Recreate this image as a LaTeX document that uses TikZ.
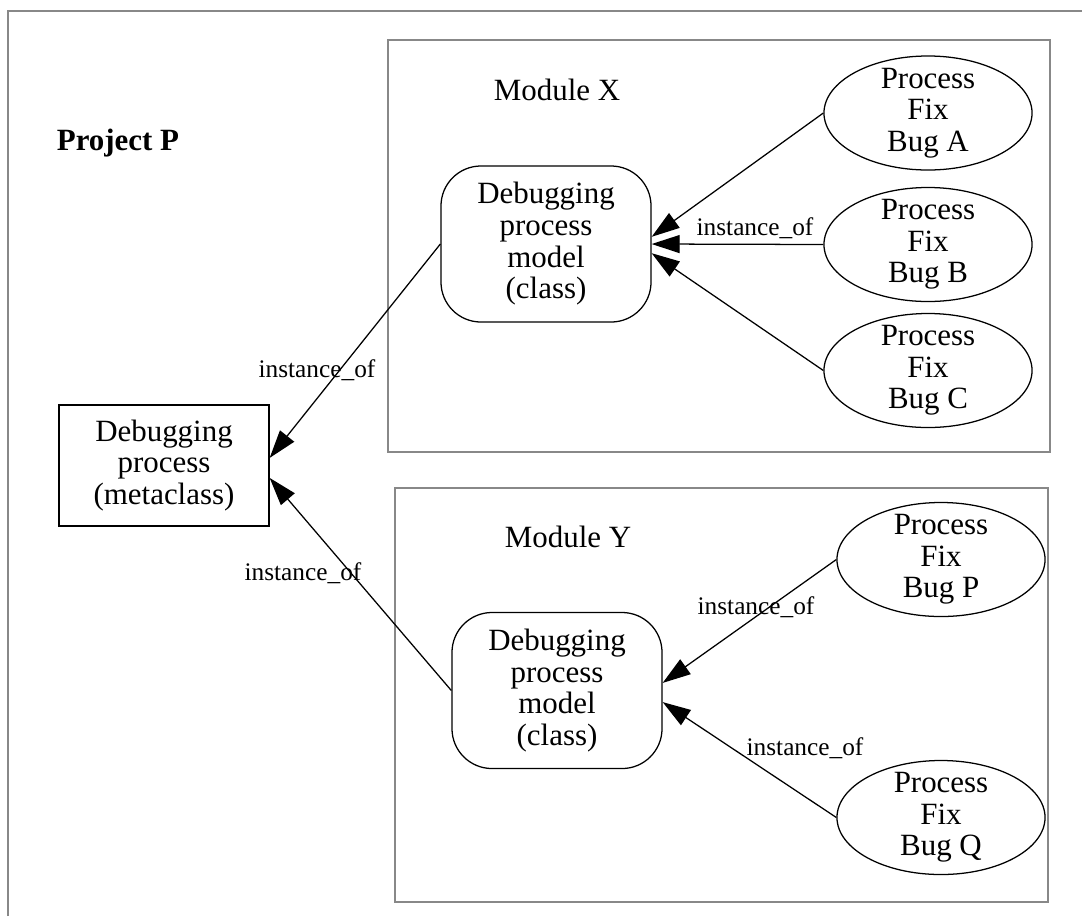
\documentclass[tikz,border=0pt]{standalone}
\usepackage{fontspec}
\setmainfont{Liberation Serif}
\usetikzlibrary{arrows.meta, shapes.geometric}
\definecolor{framegray}{HTML}{888888}

\begin{document}
\begin{tikzpicture}[x=0.025cm, y=-0.025cm,
    nodetext/.style={align=center, font=\fontsize{22}{22.5}\selectfont, inner sep=0pt},
    metabox/.style={nodetext, draw, line width=0.9pt, minimum width=5.25cm, minimum height=3.025cm},
    classbox/.style={nodetext, draw, line width=0.9pt, rounded corners=1cm, minimum width=5.25cm, minimum height=3.9cm},
    bugnode/.style={nodetext, draw, ellipse, line width=0.9pt, inner ysep=-6pt, minimum width=5.2cm, minimum height=2.85cm},
    edgelabel/.style={font=\fontsize{18}{20}\selectfont, inner sep=0pt},
    inst/.style={-{Triangle[length=0.7cm, width=0.45cm]}, line width=0.9pt},
    cluster/.style={draw=framegray, line width=1.6pt}]
    \useasboundingbox (0,0) rectangle (1082,916);

    % Project frame
    \draw[cluster] (8,916) -- (8,11) -- (1082,11);
    \node[font=\fontsize{22}{26}\selectfont\bfseries] (project) at (118,143) {Project P};

    % Module clusters
    \draw[cluster] (388,40) rectangle (1050,452);
    \node[nodetext] (modX) at (557,90) {Module X};
    \draw[cluster] (395,488) rectangle (1048,902);
    \node[nodetext] (modY) at (568,537) {Module Y};

    % Metaclass and classes
    \node[metabox] (meta) at (164,465.5) {Debugging\\process\\(metaclass)};
    \node[classbox] (classX) at (546,244) {Debugging\\process\\model\\(class)};
    \node[classbox] (classY) at (557,690.5) {Debugging\\process\\model\\(class)};

    % Bug fix processes
    \node[bugnode] (bugA) at (928,113) {Process\\Fix\\Bug A};
    \node[bugnode] (bugB) at (928,244.5) {Process\\Fix\\Bug B};
    \node[bugnode] (bugC) at (928,370.5) {Process\\Fix\\Bug C};
    \node[bugnode] (bugP) at (941,559.5) {Process\\Fix\\Bug P};
    \node[bugnode] (bugQ) at (941,817.5) {Process\\Fix\\Bug Q};

    % instance_of links
    \draw[inst] (classX.west) -- ([yshift=0.19cm]meta.east);
    \node[edgelabel] (lblX) at (317,370) {instance\_of};
    \draw[inst] (classY.west) -- ([yshift=-0.31cm]meta.east);
    \node[edgelabel] (lblY) at (303,573) {instance\_of};

    \draw[inst] (bugA.west) -- ([yshift=0.18cm]classX.east);
    \draw[inst] (bugB.west) -- (classX.east);
    \node[edgelabel] (lblB) at (755,228) {instance\_of};
    \draw[inst] (bugC.west) -- ([yshift=-0.23cm]classX.east);

    \draw[inst] (bugP.west) -- ([yshift=0.19cm]classY.east);
    \node[edgelabel] (lblP) at (756,607) {instance\_of};
    \draw[inst] (bugQ.west) -- ([yshift=-0.29cm]classY.east);
    \node[edgelabel] (lblQ) at (805,748) {instance\_of};
\end{tikzpicture}
\end{document}
